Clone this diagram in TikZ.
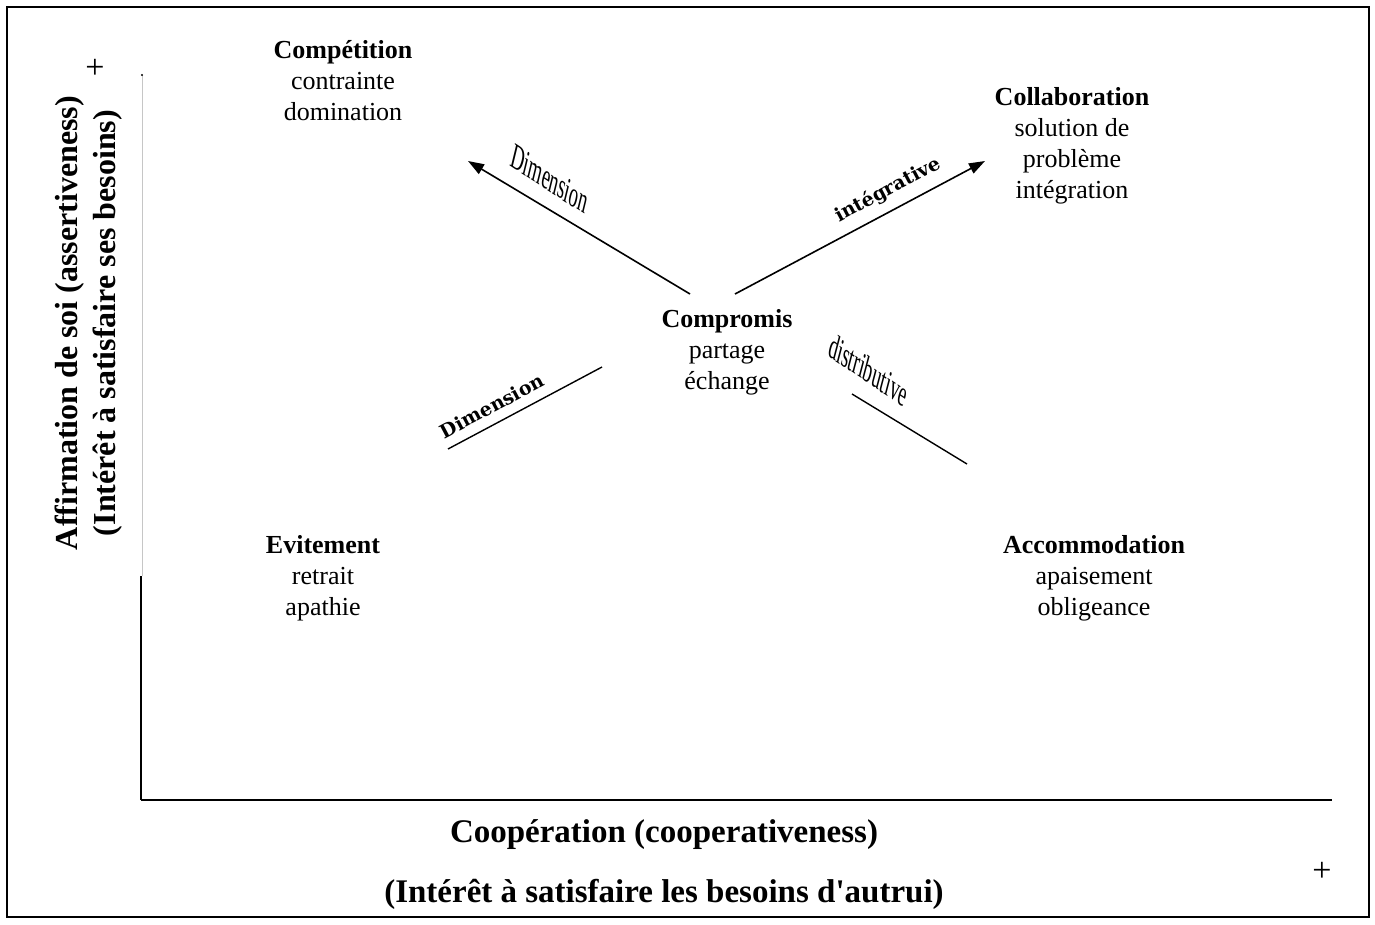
\documentclass[tikz,border=0pt]{standalone}
\usepackage{fontspec}
\setmainfont{Liberation Serif}
\newfontfamily\bookfont{DejaVu Serif}
\newfontfamily\artfont[FakeStretch=0.62,FakeSlant=-0.35]{Liberation Serif}
\usepackage{tikz}
\usetikzlibrary{arrows.meta,positioning}

\begin{document}
\begin{tikzpicture}[
  x=1pt,y=-1pt,
  style/.style={align=center,inner sep=0pt,font=\fontsize{26}{31}\selectfont},
  axislabel/.style={align=center,inner sep=0pt,font=\fontsize{33}{60}\selectfont\bfseries},
  yaxislabel/.style={align=center,inner sep=0pt,font=\fontsize{32}{38}\selectfont\bfseries},
  narrow/.style={inner sep=0pt,font=\fontsize{33}{33}\selectfont\artfont},
  wide/.style={inner sep=0pt,font=\fontsize{19}{19}\selectfont\bookfont\bfseries},
  plus/.style={inner sep=0pt,font=\fontsize{34}{34}\selectfont},
  arr/.style={line width=1.6pt,-{Triangle[length=16pt,width=11pt]}},
  every node/.style={font=\fontsize{26}{31}\selectfont}
]
  \useasboundingbox (0,0) rectangle (1375,924);
  \draw[line width=2.4pt] (7,7) rectangle (1369,917);

  % axes
  \coordinate (O)    at (141,800);
  \coordinate (ytop) at (142,75);
  \coordinate (ymid) at (141,576);
  \coordinate (xend) at (1332,800);
  \draw[gray!45,line width=0.8pt](ytop)--(142,576);
  \fill (ytop) circle (1.2pt);
  \draw[line width=1.6pt](ymid)--(O);
  \draw[line width=1.8pt](O)--(xend);

  \node[plus] (yplus) at (95,69) {+};
  \node[plus] (xplus) at (1322,872) {+};

  \node[yaxislabel,rotate=90] (ylab) at (89,323)
    {Affirmation de soi (assertiveness)\\(Intérêt à satisfaire ses besoins)};
  \node[axislabel] (xlab) at (664,865)
    {Coopération (cooperativeness)\\(Intérêt à satisfaire les besoins d\textquotesingle autrui)};

  % styles de conflit
  \node[style] (comp) at (343,81)   {\textbf{Compétition}\\contrainte\\domination};
  \node[style] (coll) at (1072,146) {\textbf{Collaboration}\\solution de\\problème\\intégration};
  \node[style] (cmpr) at (727,352)  {\textbf{Compromis}\\partage\\échange};
  \node[style] (evit) at (323,578)  {\textbf{Evitement}\\retrait\\apathie};
  \node[style] (acco) at (1094,578) {\textbf{Accommodation}\\apaisement\\obligeance};

  % dimensions
  \coordinate (cpL)  at (690,294); \coordinate (tipL) at (468,161);
  \coordinate (cpR)  at (735,294); \coordinate (tipR) at (985,161);
  \draw[arr](cpL)--(tipL); \draw[arr](cpR)--(tipR);

  \coordinate (dl1) at (448,449); \coordinate (dl2) at (602,367);
  \coordinate (dr1) at (852,394); \coordinate (dr2) at (967,464);
  \draw[line width=1.4pt](dl1)--(dl2); \draw[line width=1.4pt](dr1)--(dr2);

  \node[narrow,rotate=-33] (dimA) at (553,181) {Dimension};
  \node[wide,rotate=28]    (inte) at (888,190) {intégrative};
  \node[wide,rotate=28]    (dimB) at (492,406) {Dimension};
  \node[narrow,rotate=-34] (dist) at (872,372) {distributive};
\end{tikzpicture}
\end{document}
